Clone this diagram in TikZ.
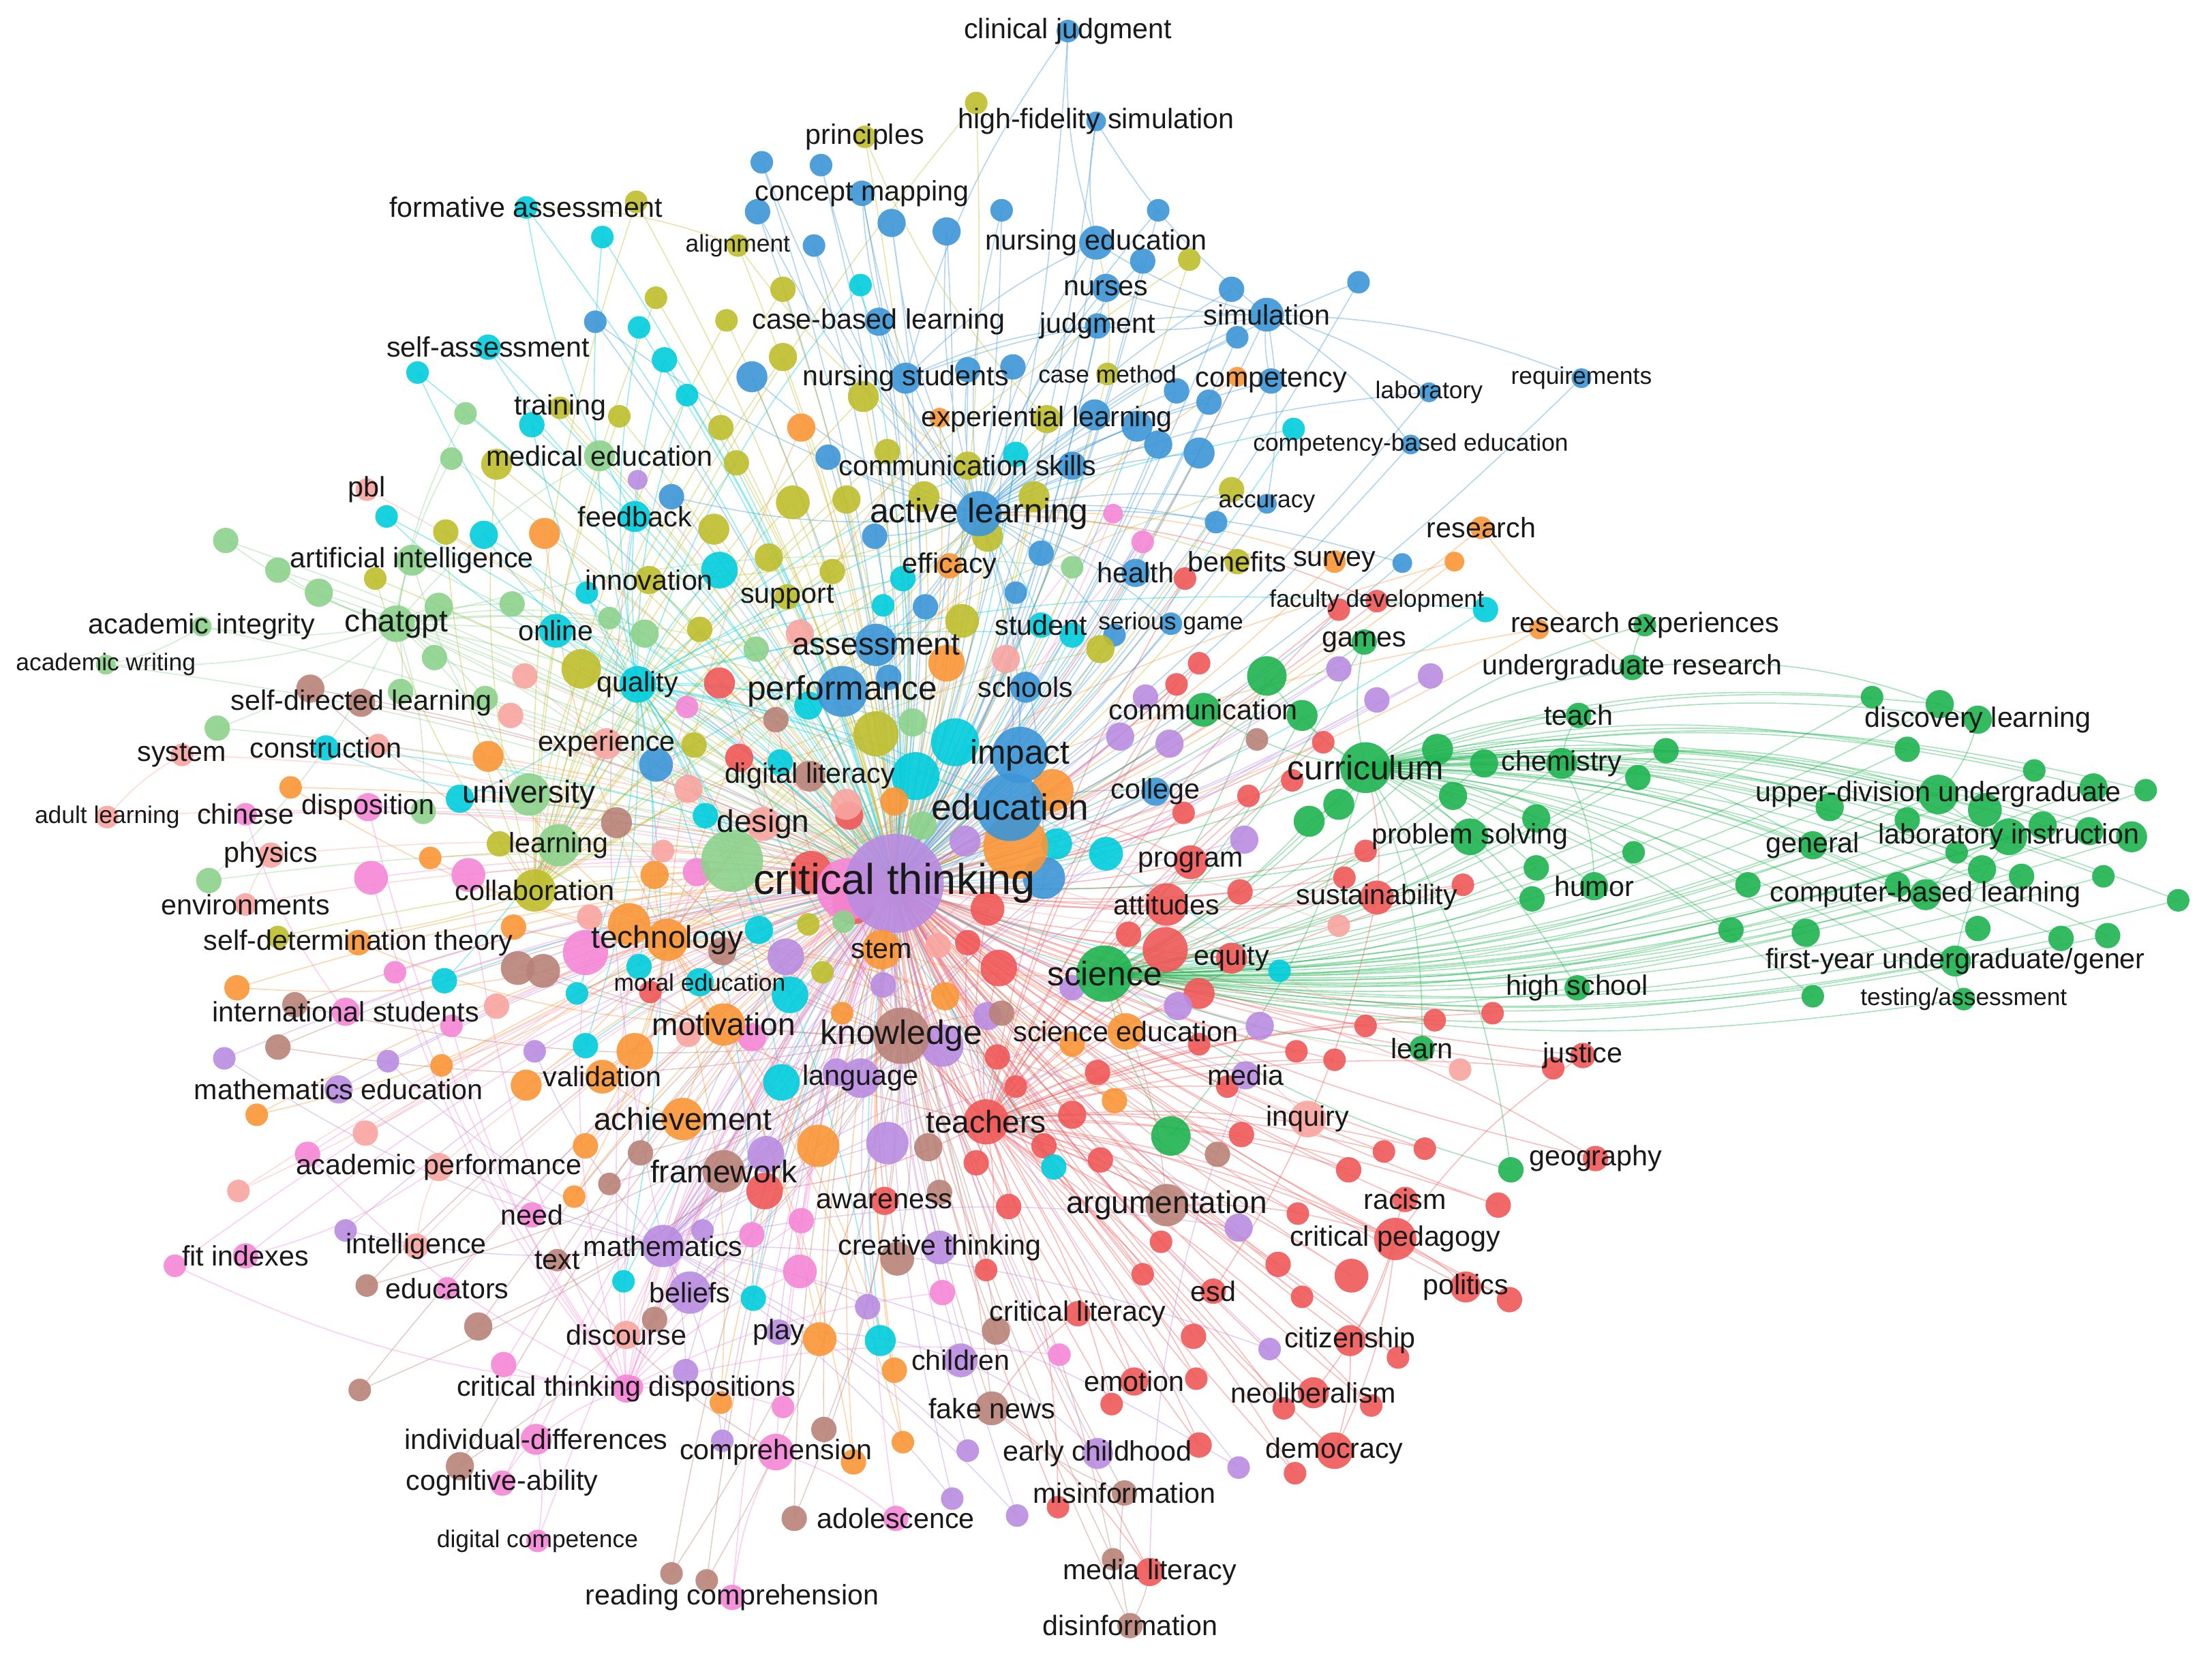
\documentclass[tikz,border=0pt]{standalone}
\usepackage{fontspec}
\setmainfont{Liberation Sans}
\usepackage{tikz}
\usetikzlibrary{calc}
\definecolor{cRed}{RGB}{240,88,88}
\definecolor{cGreen}{RGB}{30,180,80}
\definecolor{cBlue}{RGB}{60,150,215}
\definecolor{cYel}{RGB}{190,190,45}
\definecolor{cPurp}{RGB}{185,140,225}
\definecolor{cCyan}{RGB}{0,205,220}
\definecolor{cOrng}{RGB}{250,150,55}
\definecolor{cBrown}{RGB}{185,130,120}
\definecolor{cPink}{RGB}{245,135,215}
\definecolor{cSalm}{RGB}{248,165,160}
\definecolor{cLgrn}{RGB}{140,210,140}
\definecolor{txt}{RGB}{25,25,25}
\tikzset{
  bub/.style={circle, inner sep=0pt, draw=none, fill=#1, fill opacity=.9},
  lnk/.style={draw=#1, line width=.65pt, draw opacity=.4},
  kwlabel/.style={inner sep=0pt, text=txt, font=\fontsize{#1}{#1}\selectfont},
}
% name/x/y/diameter/colour/font size/label
\newcommand{\kwlist}{%
  cj/757/22/16/cBlue/17/clinical judgment,
  hfs/777/86/14/cBlue/17/high-fidelity simulation,
  prin/613/97/16/cYel/17/principles,
  fa/373/147/16/cCyan/17/formative assessment,
  cm/611/137/18/cBlue/17/concept mapping,
  align/523/174/16/cYel/14.6/alignment,
  nedu/777/172/24/cBlue/17/nursing education,
  nurs/784/204/20/cBlue/17/nurses,
  cbl/623/228/20/cBlue/17/case-based learning,
  judg/778/231/18/cBlue/17/judgment,
  sim/898/223/24/cBlue/17/simulation,
  sa/346/246/18/cCyan/17/self-assessment,
  nstud/642/268/22/cBlue/17/nursing students,
  cmeth/785/265/16/cYel/14.6/case method,
  comp/901/270/18/cBlue/17/competency,
  lab/1013/278/14/cBlue/14.6/laboratory,
  req/1121/268/14/cBlue/14.6/requirements,
  train/397/289/16/cYel/17/training,
  expl/742/297/20/cYel/17/experiential learning,
  medu/425/323/22/cLgrn/17/medical education,
  comsk/686/330/20/cYel/17/communication skills,
  cbe/1000/315/14/cBlue/14.6/competency-based education,
  pbl/260/347/16/cSalm/17/pbl,
  fb/450/366/22/cCyan/17/feedback,
  al/694/364/32/cBlue/20.5/active learning,
  acc/898/357/14/cBlue/14.6/accuracy,
  res/1050/374/16/cOrng/17/research,
  ai/292/397/22/cLgrn/17/artificial intelligence,
  innov/460/411/20/cYel/17/innovation,
  eff/673/401/18/cOrng/17/efficacy,
  hlth/805/406/20/cBlue/17/health,
  ben/877/398/18/cYel/17/benefits,
  surv/946/398/16/cOrng/17/survey,
  aint/143/444/14/cLgrn/17/academic integrity,
  gpt/281/442/26/cLgrn/19/chatgpt,
  onl/394/447/24/cCyan/17/online,
  supp/558/423/18/cYel/17/support,
  fdev/976/426/16/cRed/14.6/faculty development,
  rexp/1166/443/16/cGreen/17/research experiences,
  awr/75/471/14/cLgrn/14.6/academic writing,
  asmt/621/457/30/cBlue/19/assessment,
  stud/738/443/18/cCyan/17/student,
  sgame/830/442/16/cBlue/14.6/serious game,
  games/967/455/18/cGreen/17/games,
  ures/1157/473/18/cGreen/17/undergraduate research,
  qual/452/485/26/cCyan/17/quality,
  perf/597/490/36/cBlue/20.5/performance,
  schl/727/487/22/cBlue/17/schools,
  sdl/256/498/20/cBrown/17/self-directed learning,
  comm/853/503/24/cGreen/17/communication,
  teach/1119/507/18/cGreen/17/teach,
  disc/1402/510/20/cGreen/17/discovery learning,
  sys/129/535/16/cSalm/17/system,
  constr/231/530/18/cCyan/17/construction,
  exper/430/527/22/cSalm/17/experience,
  dlit/574/550/22/cBrown/17/digital literacy,
  imp/723/535/40/cBlue/20.5/impact,
  curr/968/544/36/cGreen/20.5/curriculum,
  chem/1107/541/22/cGreen/17/chemistry,
  udiv/1374/563/28/cGreen/17/upper-division undergraduate,
  univ/375/563/30/cLgrn/19/university,
  coll/819/561/20/cBlue/17/college,
  edu/716/572/48/cBlue/22/education,
  des/541/584/24/cSalm/19/design,
  chin/174/577/16/cPink/17/chinese,
  disp/261/572/20/cPink/17/disposition,
  adult/76/579/16/cSalm/14.6/adult learning,
  lrn/396/599/30/cLgrn/17/learning,
  gen/1285/599/20/cGreen/17/general,
  labi/1424/593/26/cGreen/17/laboratory instruction,
  ps/1042/593/26/cGreen/17/problem solving,
  phys/192/606/18/cSalm/17/physics,
  prog/844/611/24/cRed/17/program,
  ct/634/626/70/cPurp/26/critical thinking,
  env/174/641/16/cSalm/17/environments,
  collab/379/631/30/cYel/17/collaboration,
  att/827/641/30/cRed/17/attitudes,
  sust/976/636/24/cRed/17/sustainability,
  hum/1130/628/20/cGreen/17/humor,
  cbl2/1365/634/22/cGreen/17/computer-based learning,
  sdt/254/668/18/cOrng/17/self-determination theory,
  tech/473/666/30/cOrng/19/technology,
  stem/625/673/28/cOrng/17/stem,
  eq/873/679/22/cRed/17/equity,
  sci/783/690/40/cGreen/20.5/science,
  fyu/1386/681/22/cGreen/17/{first-year undergraduate/gener},
  hs/1118/700/18/cGreen/17/high school,
  testa/1392/708/16/cGreen/14.6/{testing/assessment},
  moral/496/696/20/cCyan/14.6/moral education,
  intl/245/717/20/cPink/17/international students,
  motiv/513/726/30/cOrng/19/motivation,
  know/639/734/40/cBrown/20.5/knowledge,
  scied/798/731/26/cOrng/17/science education,
  learn/1008/743/18/cGreen/17/learn,
  just/1122/748/18/cRed/17/justice,
  mathed/240/772/20/cPurp/17/mathematics education,
  valid/427/763/24/cOrng/17/validation,
  lang/610/764/28/cPurp/17/language,
  media/883/762/20/cPurp/17/media,
  inq/927/793/26/cSalm/17/inquiry,
  ach/484/793/30/cOrng/19/achievement,
  teachers/699/795/32/cRed/19/teachers,
  geo/1131/821/18/cRed/17/geography,
  aperf/311/827/20/cSalm/17/academic performance,
  frame/513/830/30/cBrown/19/framework,
  aware/627/851/20/cRed/17/awareness,
  arg/827/854/30/cBrown/19/argumentation,
  rac/996/850/18/cRed/17/racism,
  need/377/861/18/cPink/17/need,
  intel/295/883/18/cSalm/17/intelligence,
  fit/174/890/18/cPink/17/fit indexes,
  math/470/883/30/cPurp/17/mathematics,
  text/395/893/16/cBrown/17/text,
  creat/666/884/24/cPurp/17/creative thinking,
  cped/989/878/30/cRed/17/critical pedagogy,
  educ/317/913/16/cPink/17/educators,
  bel/489/916/30/cPurp/17/beliefs,
  esd/860/915/18/cRed/17/esd,
  pol/1039/912/22/cRed/17/politics,
  dis/444/946/20/cSalm/17/discourse,
  play/552/944/18/cPurp/17/play,
  clit/764/931/18/cRed/17/critical literacy,
  citi/957/950/22/cRed/17/citizenship,
  chil/681/964/24/cPurp/17/children,
  emo/804/979/20/cRed/17/emotion,
  ctd/444/984/20/cPink/17/critical thinking dispositions,
  neo/931/987/22/cRed/17/neoliberalism,
  fake/703/998/24/cBrown/17/fake news,
  indiv/380/1020/22/cPink/17/individual-differences,
  demo/946/1028/26/cRed/17/democracy,
  compr/550/1029/26/cPink/17/comprehension,
  early/778/1030/22/cPurp/17/early childhood,
  cogab/356/1051/18/cPink/17/cognitive-ability,
  misinf/797/1058/18/cBrown/17/misinformation,
  adol/635/1076/18/cPink/17/adolescence,
  dcomp/381/1092/16/cPink/14.6/digital competence,
  mlit/815/1114/20/cRed/17/media literacy,
  rcomp/519/1132/18/cPink/17/reading comprehension,
  disinf/801/1152/18/cBrown/17/disinformation}
% unlabelled keywords per cluster: x/y/diameter
\newcommand{\redlist}{840/410/16, 949/432/16, 850/470/16, 834/485/16,
  938/526/16, 916/553/16, 885/564/16, 839/576/16, 968/603/16, 953/622/16,
  879/632/18, 1037/627/16, 800/662/18, 826/673/32, 850/704/22, 919/745/16,
  968/727/16, 1017/723/16, 1058/718/16, 946/751/16, 1101/757/16, 880/804/18,
  956/829/18, 981/816/16, 1010/814/16, 1062/854/18, 920/860/16, 823/880/16,
  906/896/18, 958/904/24, 923/919/16, 810/903/16, 1070/921/18, 846/947/18,
  991/962/16, 848/977/16, 910/998/16, 972/996/16, 850/1024/18, 918/1044/16,
  788/995/16, 510/484/22, 524/537/20, 602/578/20, 575/618/30, 605/640/30,
  700/644/24, 461/703/16, 686/668/18, 708/686/26, 707/749/18, 542/844/26,
  692/824/18, 715/855/18, 699/900/16, 750/1068/16, 778/760/18, 760/790/20,
  740/812/18, 780/822/18, 850/740/16, 870/770/16, 720/770/16}
\newcommand{\greenlist}{898/479/28, 923/507/22, 1019/531/22, 1052/541/20,
  1181/532/18, 1161/551/18, 949/570/22, 1030/564/20, 928/582/22, 1089/580/20,
  1158/604/16, 1089/615/18, 1086/637/18, 1327/494/16, 1375/499/20, 1352/531/18,
  1442/546/16, 1484/558/20, 1521/560/16, 1297/572/20, 1407/574/24, 1352/581/18,
  1448/585/20, 1481/589/20, 1511/593/22, 1387/604/16, 1405/616/20, 1433/621/18,
  1491/621/16, 1239/627/18, 1345/627/18, 1544/638/16, 1227/659/18, 1280/661/20,
  1402/658/18, 1461/665/18, 1494/663/18, 1285/706/16, 830/805/28, 1071/829/18}
\newcommand{\bluelist}{540/115/16, 582/117/16, 537/150/18, 632/158/20,
  671/164/20, 710/149/16, 577/174/16, 422/228/16, 533/267/22, 718/260/18,
  686/262/18, 476/352/18, 821/149/16, 810/185/18, 873/205/18, 963/200/16,
  877/239/16, 834/277/18, 857/285/18, 821/315/20, 850/321/22, 862/370/16,
  994/399/14, 656/430/18, 465/542/24, 740/622/30, 587/324/18, 806/302/22,
  776/294/22, 620/380/18, 738/392/18, 760/330/20, 720/420/16, 790/450/16,
  630/480/18}
\newcommand{\yellist}{692/73/16, 451/143/16, 465/211/16, 555/205/18,
  515/227/16, 555/253/20, 612/281/22, 439/295/16, 511/303/18, 629/320/18,
  522/328/18, 562/356/24, 600/354/20, 655/352/22, 733/352/22, 506/375/22,
  545/395/20, 843/184/16, 873/347/18, 266/410/16, 354/598/18, 197/664/16,
  352/329/22, 316/377/18, 412/474/28, 496/446/18, 682/440/24, 621/520/32,
  492/528/18, 573/655/16, 583/689/16, 780/460/20, 590/405/18, 700/380/22}
\newcommand{\cyanlist}{296/264/16, 274/366/16, 343/379/20, 427/168/16,
  610/202/16, 453/232/16, 471/255/18, 487/280/16, 917/304/16, 1053/432/18,
  907/688/16, 377/301/18, 326/566/20, 315/695/18, 510/404/26, 416/420/16,
  626/429/16, 573/500/20, 677/526/34, 649/550/34, 553/540/18, 500/578/18,
  749/598/22, 538/659/20, 453/685/18, 409/704/16, 560/705/26, 415/741/18,
  554/767/26, 747/827/18, 442/908/16, 534/920/18, 624/950/22, 784/605/24,
  720/322/18, 640/410/18, 760/450/18}
\newcommand{\purplist}{452/340/14, 949/474/18, 976/496/18, 1014/479/18,
  812/494/18, 794/522/20, 829/527/20, 882/595/20, 835/713/20, 893/727/20,
  878/870/20, 900/956/16, 878/1040/16, 159/750/16, 275/752/16, 379/745/16,
  245/872/16, 543/818/26, 629/810/30, 498/872/16, 615/926/18, 486/972/18,
  512/1021/16, 686/1028/16, 675/1062/16, 721/1074/16, 684/596/22, 557/678/26,
  626/698/18, 668/741/30, 593/760/20, 760/700/18, 700/720/20}
\newcommand{\orngList}{666/296/14, 877/267/14, 568/303/20, 386/378/22,
  1031/398/14, 1091/446/14, 346/536/22, 206/558/16, 305/608/16, 364/657/18,
  168/700/18, 313/755/16, 373/769/22, 182/790/16, 415/812/18, 407/848/16,
  580/812/30, 581/949/24, 634/971/18, 511/994/16, 640/1022/16, 605/1036/18,
  671/470/26, 634/568/20, 720/600/46, 746/560/30, 464/620/20, 446/655/30,
  670/706/20, 597/718/16, 450/745/26, 790/780/18, 760/740/18}
\newcommand{\brownlist}{220/488/20, 367/686/24, 385/688/24, 209/712/18,
  197/742/18, 260/911/16, 339/940/20, 255/985/16, 326/1039/20, 454/817/18,
  432/839/16, 658/813/20, 666/845/18, 464/935/18, 706/943/20, 584/1013/18,
  563/1076/18, 476/1115/16, 501/1120/16, 863/818/18, 789/1105/16, 891/524/16,
  550/510/18, 437/583/22, 512/674/20, 710/718/18, 636/892/24}
\newcommand{\pinklist}{789/364/14, 810/384/16, 263/622/24, 332/620/24,
  280/689/16, 320/727/16, 218/818/18, 124/897/16, 357/967/18, 533/875/18,
  568/865/18, 567/901/24, 668/916/18, 751/960/16, 448/983/16, 555/997/16,
  487/501/16, 494/618/20, 601/630/44, 415/675/32, 533/735/20}
\newcommand{\salmlist}{372/479/18, 362/507/18, 268/528/16, 352/713/18,
  259/803/18, 169/844/16, 949/656/16, 1035/758/16, 567/449/20, 713/467/20,
  488/559/20, 470/603/16, 418/650/18, 665/670/18, 488/733/18, 600/570/22}
\newcommand{\lgrnlist}{160/383/18, 330/293/16, 320/325/16, 197/404/18,
  226/420/20, 311/430/20, 308/466/18, 363/428/18, 284/490/18, 344/495/18,
  154/516/18, 300/575/18, 148/624/18, 432/438/16, 457/449/20, 536/460/18,
  647/512/20, 519/610/44, 598/653/16, 654/585/20, 760/402/16}

\begin{document}
\begin{tikzpicture}[x=0.3mm, y=-0.3mm]
  \useasboundingbox (0,0) rectangle (1568,1177);
  \fill[white] (0,0) rectangle (1568,1177);

  % Positions
  \foreach \n/\x/\y/\d/\c/\f/\t in \kwlist {\coordinate (\n) at (\x,\y);}
  \foreach \x/\y/\s [count=\i] in \redlist {\coordinate (r\i) at (\x,\y);}
  \foreach \x/\y/\s [count=\i] in \greenlist {\coordinate (g\i) at (\x,\y);}
  \foreach \x/\y/\s [count=\i] in \bluelist {\coordinate (b\i) at (\x,\y);}
  \foreach \x/\y/\s [count=\i] in \yellist {\coordinate (y\i) at (\x,\y);}
  \foreach \x/\y/\s [count=\i] in \cyanlist {\coordinate (c\i) at (\x,\y);}
  \foreach \x/\y/\s [count=\i] in \purplist {\coordinate (p\i) at (\x,\y);}
  \foreach \x/\y/\s [count=\i] in \orngList {\coordinate (o\i) at (\x,\y);}
  \foreach \x/\y/\s [count=\i] in \brownlist {\coordinate (w\i) at (\x,\y);}
  \foreach \x/\y/\s [count=\i] in \pinklist {\coordinate (k\i) at (\x,\y);}
  \foreach \x/\y/\s [count=\i] in \salmlist {\coordinate (s\i) at (\x,\y);}
  \foreach \x/\y/\s [count=\i] in \lgrnlist {\coordinate (l\i) at (\x,\y);}

  % Links of unlabelled keywords
  \foreach \x/\y/\s [count=\i] in \redlist
    {\draw[lnk=cRed] (r\i) to[bend left=8] (ct) (r\i) to[bend right=10] (teachers);}
  \foreach \x/\y/\s [count=\i] in \greenlist
    {\draw[lnk=cGreen] (g\i) to[bend right=12] (curr) (g\i) to[bend left=10] (sci);}
  \foreach \x/\y/\s [count=\i] in \bluelist
    {\draw[lnk=cBlue] (b\i) to[bend left=8] (ct) (b\i) to[bend right=10] (al);}
  \foreach \x/\y/\s [count=\i] in \yellist
    {\draw[lnk=cYel] (y\i) to[bend left=8] (ct) (y\i) to[bend right=10] (collab);}
  \foreach \x/\y/\s [count=\i] in \cyanlist
    {\draw[lnk=cCyan] (c\i) to[bend left=8] (ct) (c\i) to[bend right=10] (qual);}
  \foreach \x/\y/\s [count=\i] in \purplist
    {\draw[lnk=cPurp] (p\i) to[bend left=8] (ct) (p\i) to[bend right=10] (math);}
  \foreach \x/\y/\s [count=\i] in \orngList
    {\draw[lnk=cOrng] (o\i) to[bend left=8] (ct) (o\i) to[bend right=10] (tech);}
  \foreach \x/\y/\s [count=\i] in \brownlist
    {\draw[lnk=cBrown] (w\i) to[bend left=8] (ct) (w\i) to[bend right=10] (know);}
  \foreach \x/\y/\s [count=\i] in \pinklist
    {\draw[lnk=cPink] (k\i) to[bend left=8] (ct) (k\i) to[bend right=10] (ctd);}
  \foreach \x/\y/\s [count=\i] in \salmlist
    {\draw[lnk=cSalm] (s\i) to[bend left=8] (ct) (s\i) to[bend right=10] (des);}
  \foreach \x/\y/\s [count=\i] in \lgrnlist
    {\draw[lnk=cLgrn] (l\i) to[bend left=8] (ct) (l\i) to[bend right=10] (gpt);}

  % Links of labelled keywords
  \foreach \n in {cj,hfs,cm,nedu,nurs,cbl,judg,sim,nstud,comp,lab,req,cbe,al,
      acc,hlth,sgame,asmt,perf,schl,imp,coll,edu}
    \draw[lnk=cBlue] (\n) to[bend left=8] (ct);
  \foreach \a/\b in {cj/nedu, cj/nstud, hfs/sim, hfs/nedu, cm/nstud, cm/al,
      nedu/nstud, nedu/sim, nedu/al, nurs/al, nurs/sim, judg/sim, judg/nstud,
      cbl/nstud, cbl/al, sim/al, sim/comp, sim/nstud, comp/al, lab/sim, lab/al,
      req/sim, cbe/sim, acc/sim, acc/al, hlth/al, sgame/al, asmt/al, perf/al,
      imp/al, edu/al, schl/imp, coll/edu}
    \draw[lnk=cBlue] (\a) to[bend right=10] (\b);
  \foreach \n in {prin,align,cmeth,train,expl,comsk,innov,ben,supp,collab}
    \draw[lnk=cYel] (\n) to[bend left=8] (ct);
  \foreach \a/\b in {prin/expl, align/fa, align/comsk, train/medu, expl/al,
      comsk/al, innov/al, collab/al, cmeth/nedu, ben/al}
    \draw[lnk=cYel] (\a) to[bend right=10] (\b);
  \foreach \n in {fa,sa,fb,onl,stud,qual,constr,moral}
    \draw[lnk=cCyan] (\n) to[bend left=8] (ct);
  \foreach \a/\b in {fa/fb, sa/fb, fb/qual, onl/qual, constr/univ, stud/al}
    \draw[lnk=cCyan] (\a) to[bend right=10] (\b);
  \foreach \n in {medu,ai,aint,gpt,awr,univ,lrn}
    \draw[lnk=cLgrn] (\n) to[bend left=8] (ct);
  \foreach \a/\b in {ai/gpt, aint/gpt, awr/aint, awr/gpt, medu/gpt, univ/gpt,
      lrn/univ, ai/univ}
    \draw[lnk=cLgrn] (\a) to[bend right=10] (\b);
  \foreach \n in {fdev,prog,att,sust,eq,just,teachers,geo,aware,rac,cped,esd,
      pol,clit,citi,emo,neo,demo,mlit}
    \draw[lnk=cRed] (\n) to[bend left=8] (ct);
  \foreach \a/\b in {cped/arg, cped/teachers, rac/cped, pol/cped, citi/cped,
      neo/cped, demo/cped, demo/citi, esd/sust, sust/curr, just/cped, geo/sci,
      mlit/fake, clit/fake, emo/teachers, att/sci, prog/edu, eq/sci, fdev/al}
    \draw[lnk=cRed] (\a) to[bend right=10] (\b);
  \foreach \n in {eff,res,surv,sdt,tech,stem,scied,valid,ach,motiv}
    \draw[lnk=cOrng] (\n) to[bend left=8] (ct);
  \foreach \a/\b in {tech/motiv, motiv/ach, valid/ach, scied/sci, stem/sci,
      res/ures, surv/al, eff/al, sdt/motiv}
    \draw[lnk=cOrng] (\a) to[bend right=10] (\b);
  \foreach \n in {sdl,dlit,know,frame,arg,text,fake,misinf,disinf}
    \draw[lnk=cBrown] (\n) to[bend left=8] (ct);
  \foreach \a/\b in {arg/sci, arg/know, fake/misinf, misinf/disinf,
      disinf/mlit, fake/dlit, text/compr, frame/know}
    \draw[lnk=cBrown] (\a) to[bend right=10] (\b);
  \foreach \n in {lang,media,mathed,math,creat,bel,play,chil,early}
    \draw[lnk=cPurp] (\n) to[bend left=8] (ct);
  \foreach \a/\b in {math/bel, mathed/math, bel/know, chil/play, early/chil,
      media/mlit}
    \draw[lnk=cPurp] (\a) to[bend right=10] (\b);
  \foreach \n in {chin,disp,intl,need,fit,educ,ctd,indiv,compr,cogab,adol,
      dcomp,rcomp}
    \draw[lnk=cPink] (\n) to[bend left=8] (ct);
  \foreach \a/\b in {ctd/indiv, indiv/cogab, fit/aperf, compr/rcomp,
      adol/compr, dcomp/indiv, disp/ctd, chin/intl}
    \draw[lnk=cPink] (\a) to[bend right=10] (\b);
  \foreach \n in {pbl,sys,exper,des,adult,phys,env,inq,aperf,intel,dis}
    \draw[lnk=cSalm] (\n) to[bend left=8] (ct);
  \foreach \a/\b in {sys/adult, phys/env, inq/sci, aperf/intel, dis/math}
    \draw[lnk=cSalm] (\a) to[bend right=10] (\b);
  \foreach \n in {rexp,games,ures,comm,teach,disc,chem,udiv,gen,labi,ps,hum,
      cbl2,fyu,hs,testa,learn}
    \draw[lnk=cGreen] (\n) to[bend right=12] (curr);
  \foreach \n in {curr,chem,ps,udiv,labi,hs,learn,fyu,testa,gen,cbl2,games}
    \draw[lnk=cGreen] (\n) to[bend left=10] (sci);
  \foreach \n in {curr,sci,comm,ps,games}
    \draw[lnk=cGreen] (\n) to[bend left=8] (ct);
  \foreach \a/\b in {udiv/labi, udiv/disc, udiv/gen, labi/cbl2, labi/fyu,
      fyu/testa, gen/chem, disc/ures, udiv/chem, labi/chem, rexp/ures,
      hum/chem, teach/chem}
    \draw[lnk=cGreen] (\a) to[bend right=14] (\b);

  % Bubbles
  \foreach \x/\y/\s [count=\i] in \redlist
    {\node[bub=cRed, minimum size=\s*0.3mm] (r\i-d) at (r\i) {};}
  \foreach \x/\y/\s [count=\i] in \greenlist
    {\node[bub=cGreen, minimum size=\s*0.3mm] (g\i-d) at (g\i) {};}
  \foreach \x/\y/\s [count=\i] in \bluelist
    {\node[bub=cBlue, minimum size=\s*0.3mm] (b\i-d) at (b\i) {};}
  \foreach \x/\y/\s [count=\i] in \yellist
    {\node[bub=cYel, minimum size=\s*0.3mm] (y\i-d) at (y\i) {};}
  \foreach \x/\y/\s [count=\i] in \cyanlist
    {\node[bub=cCyan, minimum size=\s*0.3mm] (c\i-d) at (c\i) {};}
  \foreach \x/\y/\s [count=\i] in \purplist
    {\node[bub=cPurp, minimum size=\s*0.3mm] (p\i-d) at (p\i) {};}
  \foreach \x/\y/\s [count=\i] in \orngList
    {\node[bub=cOrng, minimum size=\s*0.3mm] (o\i-d) at (o\i) {};}
  \foreach \x/\y/\s [count=\i] in \brownlist
    {\node[bub=cBrown, minimum size=\s*0.3mm] (w\i-d) at (w\i) {};}
  \foreach \x/\y/\s [count=\i] in \pinklist
    {\node[bub=cPink, minimum size=\s*0.3mm] (k\i-d) at (k\i) {};}
  \foreach \x/\y/\s [count=\i] in \salmlist
    {\node[bub=cSalm, minimum size=\s*0.3mm] (s\i-d) at (s\i) {};}
  \foreach \x/\y/\s [count=\i] in \lgrnlist
    {\node[bub=cLgrn, minimum size=\s*0.3mm] (l\i-d) at (l\i) {};}
  \foreach \n/\x/\y/\d/\c/\f/\t in \kwlist
    {\node[bub=\c, minimum size=\d*0.3mm] (\n-d) at (\n) {};}

  % Labels
  \foreach \n/\x/\y/\d/\c/\f/\t in \kwlist
    {\node[kwlabel=\f] (\n-t) at (\n) {\t};}
\end{tikzpicture}
\end{document}
